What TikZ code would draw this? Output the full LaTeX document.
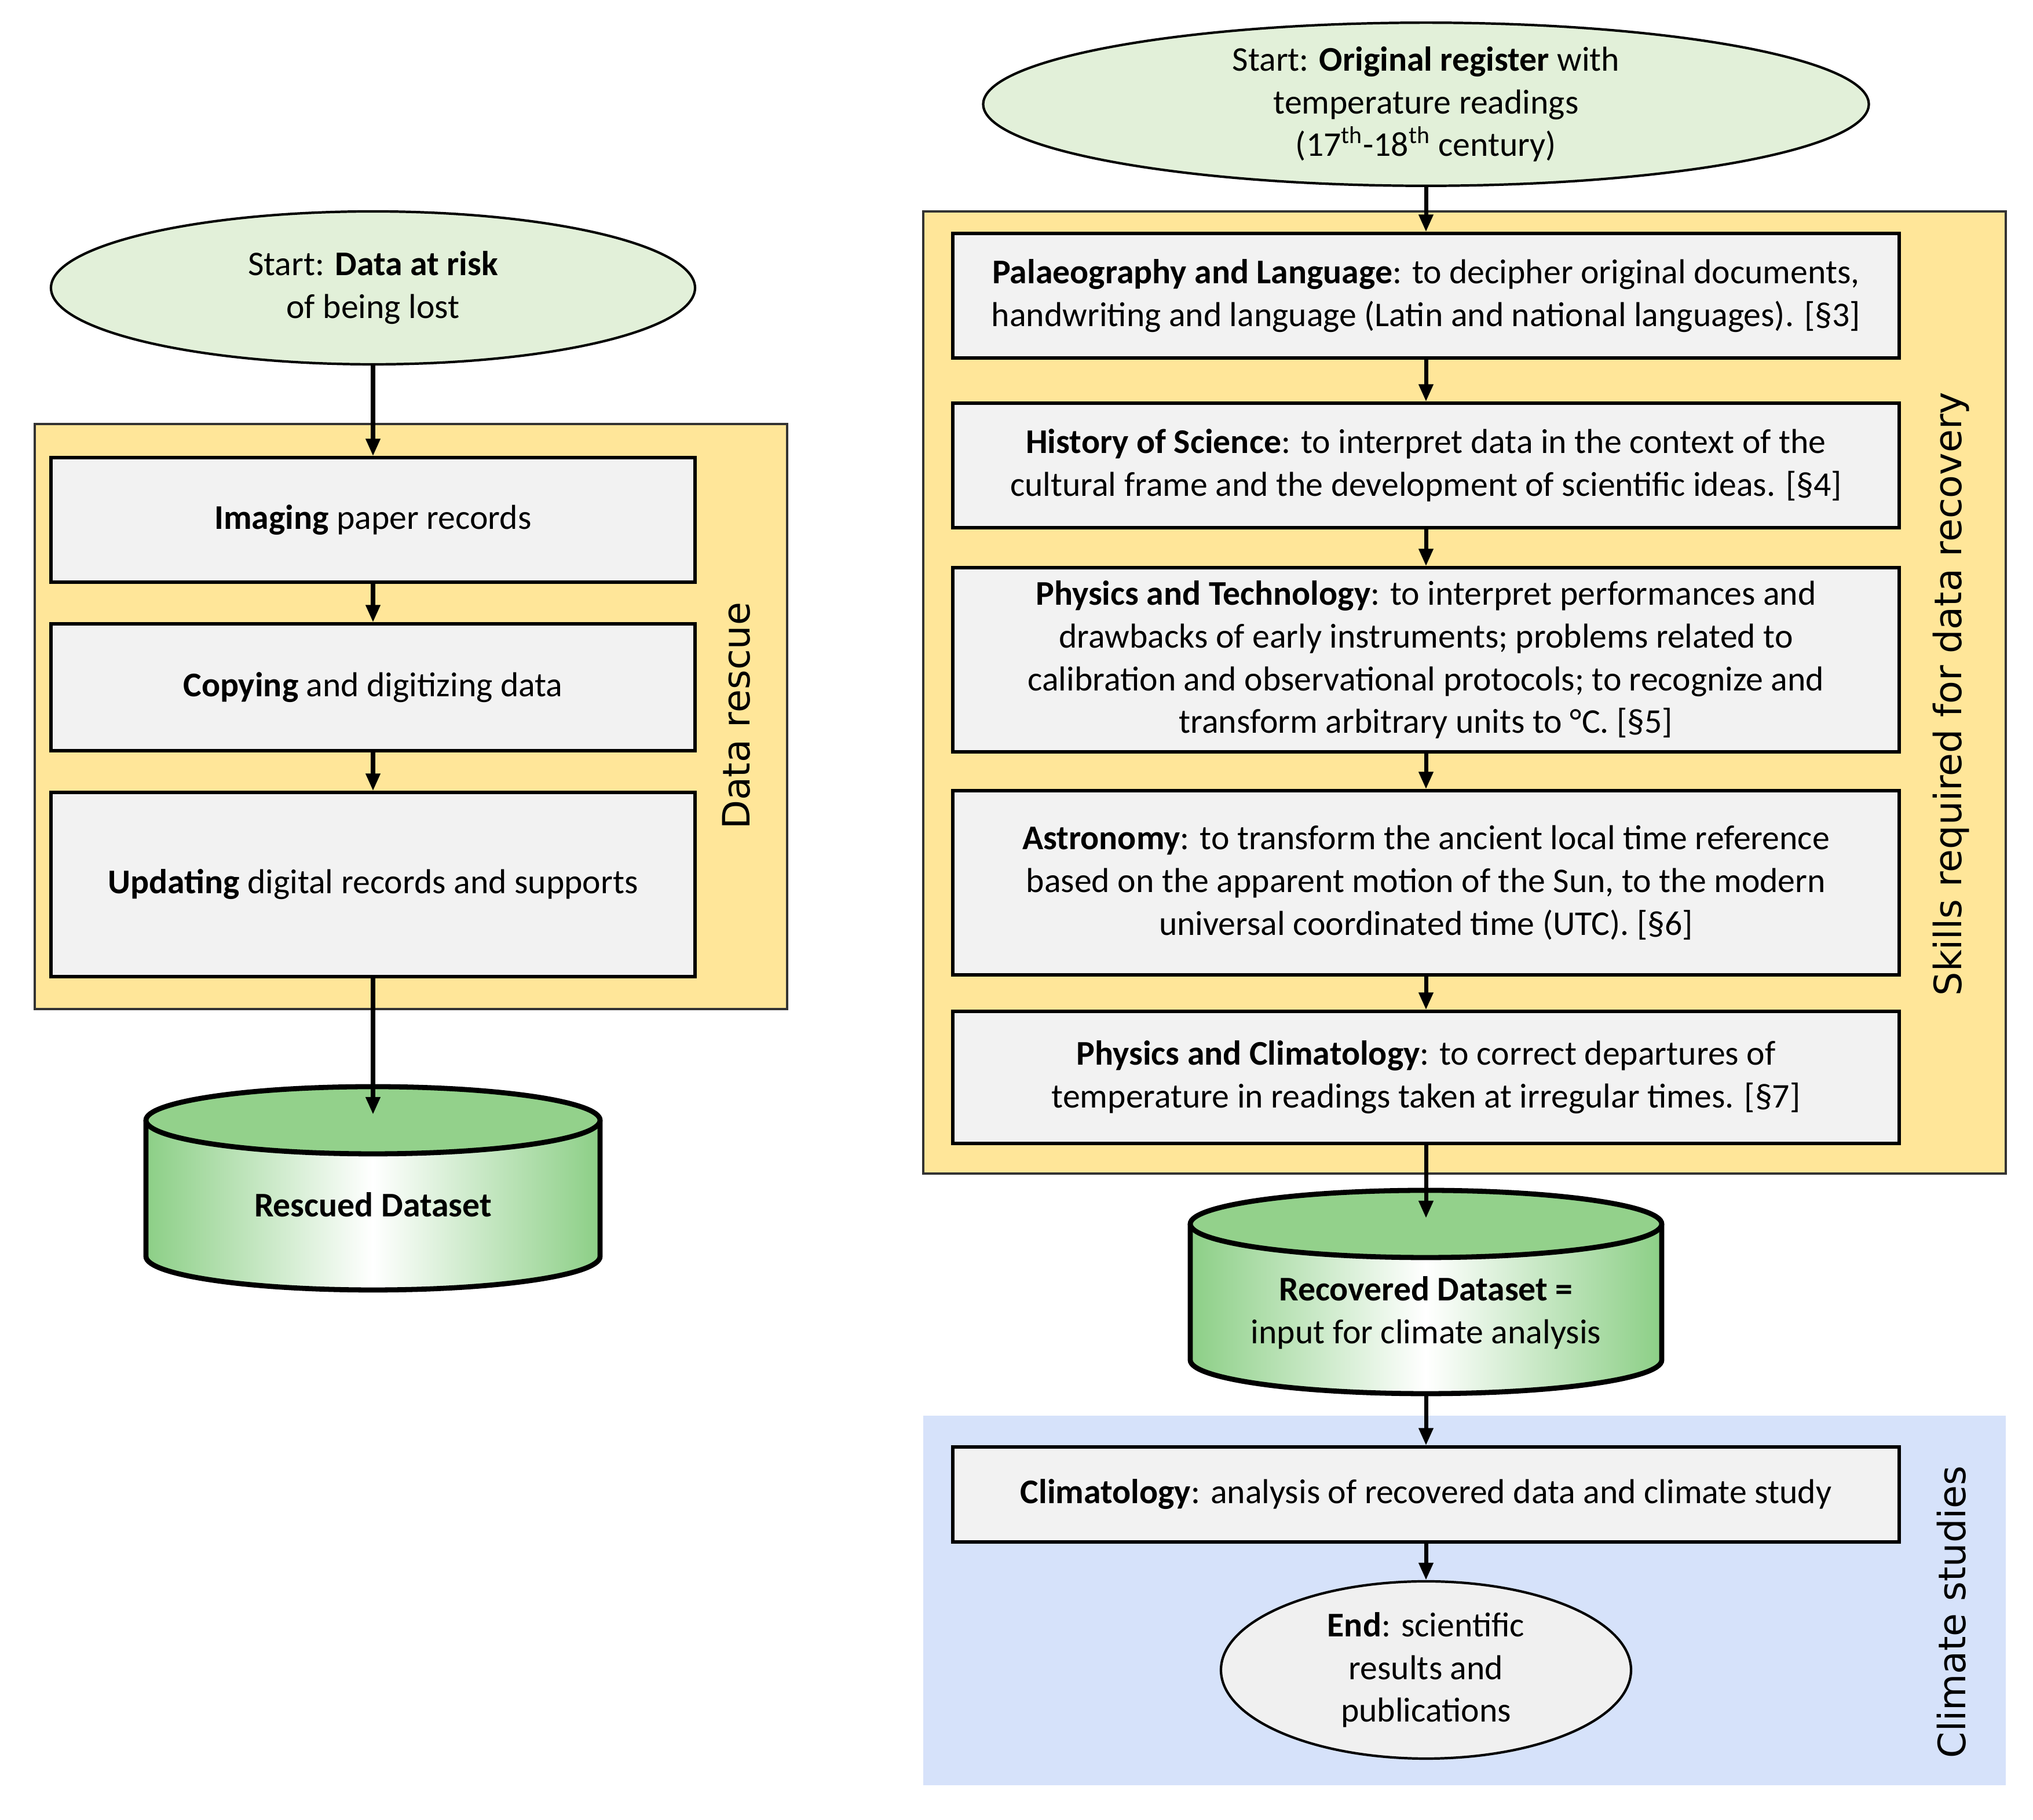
\documentclass[tikz,border=0pt]{standalone}
\usepackage{fontspec}
\setmainfont{Carlito}
\newfontfamily\labelfont{DejaVu Sans}
\usepackage{tikz}
\usetikzlibrary{arrows.meta,shapes.geometric}

\definecolor{startgreen}{HTML}{E2F0D9}
\definecolor{rescueyellow}{HTML}{FFE699}
\definecolor{boxgray}{HTML}{F2F2F2}
\definecolor{climblue}{HTML}{D6E2FA}
\definecolor{cyltop}{HTML}{93D18B}
\definecolor{cylgreen}{HTML}{8CCF86}
\definecolor{endgray}{HTML}{F0F0F0}

\tikzset{
	txt/.style={font=\fontsize{17}{21}\selectfont, align=center},
	startnode/.style={txt, ellipse, draw, line width=1.2pt, fill=startgreen, inner sep=0pt},
	stepbox/.style={txt, rectangle, draw, line width=1.5pt, fill=boxgray, minimum width=#1, inner sep=0pt},
	endnode/.style={txt, ellipse, draw, line width=1.2pt, fill=endgray, inner sep=0pt},
	cyltext/.style={txt, inner sep=0pt},
	grouplabel/.style={font=\labelfont\fontsize{18.5}{22}\selectfont, rotate=90, inner sep=0pt},
	groupbox/.style={draw=black!80, line width=1.2pt, fill=rescueyellow},
	cylline/.style={line width=2.5pt},
	flow/.style={-{Triangle[length=3mm,width=2.4mm]}, line width=2pt},
}

% cx, top-centre y, bottom-centre y, rx, ry
\newcommand{\datacyl}[5]{%
	\shade[left color=cylgreen, right color=cylgreen, middle color=white] (#1-#4,#2) -- (#1-#4,#3) arc (180:360:#4 and #5) -- (#1+#4,#2) -- cycle;
	\draw[cylline] (#1-#4,#2) -- (#1-#4,#3) arc (180:360:#4 and #5) -- (#1+#4,#2);
	\draw[cylline, fill=cyltop] (#1,#2) ellipse (#4 and #5);
}

\begin{document}
\begin{tikzpicture}[x=1mm, y=1mm]
	\useasboundingbox (0,0) rectangle (351,314.2);
	%%%%% BACKGROUND GROUPS %%%%%
	\draw[groupbox] (6.0,241.0) rectangle (135.9,140.0);
	\draw[groupbox] (159.4,277.7) rectangle (346.3,111.6);
	\fill[climblue] (159.4,69.8) rectangle (346.3,6.0);
	
	\node[grouplabel] (rescuelabel) at (127.1,190.6) {Data rescue};
	\node[grouplabel] (skillslabel) at (336.9,194.4) {Skills required for data recovery};
	\node[grouplabel] (climlabel) at (336.9,35.9) {Climate studies};
	
	%%%%% LEFT: DATA RESCUE %%%%%
	\node[startnode, minimum width=111.2mm, minimum height=26.4mm] (riskstart) at (64.4,264.5) {Start: \textbf{Data at risk}\\of being lost};
	\node[stepbox=111.2mm, minimum height=21.5mm] (imaging) at (64.4,224.45) {\textbf{Imaging} paper records};
	\node[stepbox=111.2mm, minimum height=21.9mm] (copying) at (64.4,195.55) {\textbf{Copying} and digitizing data};
	\node[stepbox=111.2mm, minimum height=31.8mm] (updating) at (64.4,161.5) {\textbf{Updating} digital records and supports};
	
	\datacyl{64.4}{120.8}{97.3}{39.2}{5.8}
	\coordinate (rescuedtop) at (64.4,121.8);
	\node[cyltext] (rescued) at (64.4,106.2) {\textbf{Rescued Dataset}};
	
	\draw[flow] (riskstart) -- (imaging);
	\draw[flow] (imaging) -- (copying);
	\draw[flow] (copying) -- (updating);
	\draw[flow] (updating) -- (rescuedtop);
	
	%%%%% RIGHT: DATA RECOVERY %%%%%
	\node[startnode, minimum width=152.9mm, minimum height=28mm] (regstart) at (246.2,296.2) {Start: \textbf{Original register} with\\temperature readings\\(17\textsuperscript{th}-18\textsuperscript{th} century)};
	\node[stepbox=163.4mm, minimum height=21.5mm] (palaeo) at (246.2,263.15) {\textbf{Palaeography and Language}: to decipher original documents,\\handwriting and language (Latin and national languages). [§3]};
	\node[stepbox=163.4mm, minimum height=21.5mm] (history) at (246.2,233.85) {\textbf{History of Science}: to interpret data in the context of the\\cultural frame and the development of scientific ideas. [§4]};
	\node[stepbox=163.4mm, minimum height=31.8mm] (phystech) at (246.2,200.3) {\textbf{Physics and Technology}: to interpret performances and\\drawbacks of early instruments; problems related to\\calibration and observational protocols; to recognize and\\transform arbitrary units to °C. [§5]};
	\node[stepbox=163.4mm, minimum height=31.8mm] (astro) at (246.2,161.8) {\textbf{Astronomy}: to transform the ancient local time reference\\based on the apparent motion of the Sun, to the modern\\universal coordinated time (UTC). [§6]};
	\node[stepbox=163.4mm, minimum height=22.8mm] (physclim) at (246.2,128.2) {\textbf{Physics and Climatology}: to correct departures of\\temperature in readings taken at irregular times. [§7]};
	
	\datacyl{246.2}{102.9}{79.4}{40.7}{5.8}
	\coordinate (recoveredtop) at (246.2,103.9);
	\coordinate (recoveredbottom) at (246.2,73.6);
	\node[cyltext] (recovered) at (246.2,87.6) {\textbf{Recovered Dataset =}\\input for climate analysis};
	
	\node[stepbox=163.4mm, minimum height=16.4mm] (climatology) at (246.2,56.2) {\textbf{Climatology}: analysis of recovered data and climate study};
	\node[endnode, minimum width=70.8mm, minimum height=30.6mm] (finish) at (246.2,25.9) {\textbf{End}: scientific\\results and\\publications};
	
	\draw[flow] (regstart) -- (palaeo);
	\draw[flow] (palaeo) -- (history);
	\draw[flow] (history) -- (phystech);
	\draw[flow] (phystech) -- (astro);
	\draw[flow] (astro) -- (physclim);
	\draw[flow] (physclim) -- (recoveredtop);
	\draw[flow] (recoveredbottom) -- (climatology);
	\draw[flow] (climatology) -- (finish);
\end{tikzpicture}
\end{document}
